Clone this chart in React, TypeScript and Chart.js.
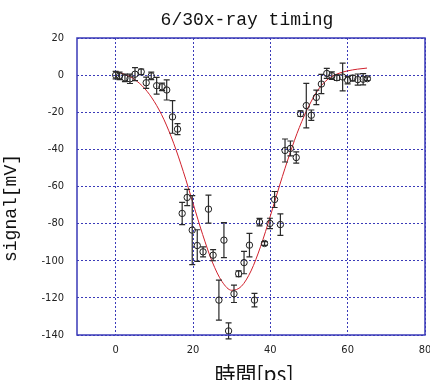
import React, { useEffect, useRef } from "react";
import { Chart, registerables } from "chart.js";

Chart.register(...registerables);

// measured points: time [ps], signal [mV], error [mV]
const timePs = [0, 1, 2.4, 3.7, 5, 6.6, 7.9, 9.2, 10.6, 12, 13.2, 14.7, 16, 17.2, 18.5, 19.8, 21.1, 22.6, 24, 25.2, 26.7, 28, 29.2, 30.6, 31.8, 33.2, 34.6, 35.9, 37.2, 38.5, 39.9, 41.1, 42.6, 43.8, 45.2, 46.7, 47.8, 49.3, 50.6, 51.9, 53.2, 54.6, 55.9, 57.2, 58.7, 60, 61.3, 62.6, 64, 65.1];
const signalMv = [0, -0.4, -1.5, -2, 0.5, 1.8, -4.1, -0.4, -5.7, -6.3, -8, -22.5, -29.1, -74.5, -65.9, -83.5, -91.8, -95.2, -72.2, -97, -121.2, -88.9, -137.8, -117.8, -107, -101, -91.6, -121.2, -79.2, -90.7, -79.9, -67, -80.5, -40.6, -39.5, -44.4, -20.8, -16.4, -21.6, -12, -4.8, 0.9, -0.3, -1.4, -1, -2.7, -1.6, -2.4, -2.2, -1.9];
const errorMv = [2, 2, 2, 2.5, 3.5, 1.5, 3, 2, 4.5, 2, 5.4, 8.8, 3, 6, 4.4, 18.6, 8.5, 2.7, 7.5, 3, 10.8, 9.4, 4.3, 4.7, 1.5, 6, 6.3, 3.6, 2, 1, 2.8, 4.3, 5.8, 6.2, 4, 3, 1.5, 12, 2.8, 3.9, 5.2, 2.7, 2, 1.5, 7.5, 2, 1.5, 3, 3, 1];

// fitted curve
const fitX = [0, 2.5, 5, 7.5, 10, 12.5, 15, 17.5, 20, 22.5, 25, 27.5, 30, 32.5, 35, 37.5, 40, 42.5, 45, 47.5, 50, 52.5, 55, 57.5, 60, 62.5, 65];
const fitY = [2, 0.3, -2.5, -7.2, -14.3, -24, -36.7, -52, -69, -85.9, -100.7, -111.2, -115.9, -113.8, -105.5, -92.2, -75.9, -58.7, -42.6, -28.2, -16.5, -7.5, -2, 0.8, 2.3, 3.2, 3.8];

const xTickValues = [0, 20, 40, 60, 80];
const yTickValues = [20, 0, -20, -40, -60, -80, -100, -120, -140];

const titleText = "6/30x-ray timing";
const xTitle = "時間[ps]";
const yTitle = "signal[mV]";

const GRID = "#3a3ab8";
const TICK_FONT = "'Liberation Sans Narrow', 'DejaVu Sans Condensed', sans-serif";

export default function App() {
  const ref = useRef<HTMLCanvasElement | null>(null);

  useEffect(() => {
    if (!ref.current) return;
    const deco = {
      id: "deco",
      afterDatasetsDraw(chart: any) {
        const ctx = chart.ctx;
        const xs = chart.scales.x;
        const ys = chart.scales.y;
        ctx.save();
        ctx.strokeStyle = "#2a2a2a";
        ctx.lineWidth = 1.2;
        for (let i = 0; i < timePs.length; i++) {
          const px = xs.getPixelForValue(timePs[i]);
          const top = ys.getPixelForValue(signalMv[i] + errorMv[i]);
          const bot = ys.getPixelForValue(signalMv[i] - errorMv[i]);
          ctx.beginPath();
          ctx.moveTo(px, top);
          ctx.lineTo(px, bot);
          ctx.moveTo(px - 3, top);
          ctx.lineTo(px + 3, top);
          ctx.moveTo(px - 3, bot);
          ctx.lineTo(px + 3, bot);
          ctx.stroke();
        }
        ctx.restore();
      },
      afterDraw(chart: any) {
        const ctx = chart.ctx;
        const a = chart.chartArea;
        ctx.save();
        ctx.strokeStyle = GRID;
        ctx.lineWidth = 1.5;
        ctx.strokeRect(a.left, a.top, a.right - a.left, a.bottom - a.top);
        ctx.fillStyle = "#111";
        ctx.textAlign = "center";
        ctx.textBaseline = "alphabetic";
        ctx.font = "18px 'Liberation Mono', 'DejaVu Sans Mono', monospace";
        ctx.fillText(titleText, 247, 25);
        ctx.textBaseline = "middle";
        ctx.font = "21px 'Noto Sans CJK JP', sans-serif";
        ctx.fillText(xTitle, 254, 374);
        ctx.translate(11, 208);
        ctx.rotate(-Math.PI / 2);
        ctx.font = "18px 'Liberation Mono', 'DejaVu Sans Mono', monospace";
        ctx.fillText(yTitle, 0, 0);
        ctx.restore();
      },
    };

    const chart = new Chart(ref.current, {
      type: "scatter",
      data: {
        datasets: [
          {
            label: "fit",
            data: fitX.map((x, i) => ({ x, y: fitY[i] })),
            showLine: true,
            borderColor: "#d0202c",
            borderWidth: 1,
            pointRadius: 0,
            tension: 0.4,
            cubicInterpolationMode: "monotone",
            order: 2,
          },
          {
            label: "signal",
            data: timePs.map((x, i) => ({ x, y: signalMv[i] })),
            showLine: false,
            pointRadius: 3.2,
            pointStyle: "circle",
            borderColor: "#1e1e1e",
            borderWidth: 1,
            backgroundColor: "rgba(0,0,0,0)",
            order: 1,
          },
        ],
      },
      options: {
        animation: false,
        responsive: false,
        devicePixelRatio: 1,
        layout: { padding: { top: 38, right: 2, left: 0, bottom: 0 } },
        plugins: { legend: { display: false }, tooltip: { enabled: false }, title: { display: false } },
        scales: {
          x: {
            type: "linear",
            min: -10,
            max: 80,
            afterBuildTicks: (s: any) => {
              s.ticks = xTickValues.map((v) => ({ value: v }));
            },
            afterFit: (s: any) => {
              s.height = 45;
              s.paddingLeft = 0;
              s.paddingRight = 0;
            },
            grid: { color: GRID, lineWidth: 1, drawTicks: false },
            border: { display: false, dash: [2, 2] },
            ticks: {
              padding: 9,
              color: "#222",
              font: { family: TICK_FONT, size: 11 },
              maxRotation: 0,
              autoSkip: false,
            },
          },
          y: {
            type: "linear",
            min: -140,
            max: 20,
            afterBuildTicks: (s: any) => {
              s.ticks = yTickValues.map((v) => ({ value: v }));
            },
            afterFit: (s: any) => {
              s.width = 77;
              s.paddingTop = 0;
              s.paddingBottom = 0;
            },
            grid: { color: GRID, lineWidth: 1, drawTicks: false },
            border: { display: false, dash: [2, 2] },
            ticks: {
              padding: 13,
              color: "#222",
              font: { family: TICK_FONT, size: 11 },
              autoSkip: false,
            },
          },
        },
      },
      plugins: [deco],
    } as any);
    return () => chart.destroy();
  }, []);

  return (
    <div style={{ position: "fixed", left: 0, top: 0, width: 430, height: 380, background: "#ffffff" }}>
      <canvas ref={ref} width={430} height={380} style={{ display: "block" }} />
    </div>
  );
}
